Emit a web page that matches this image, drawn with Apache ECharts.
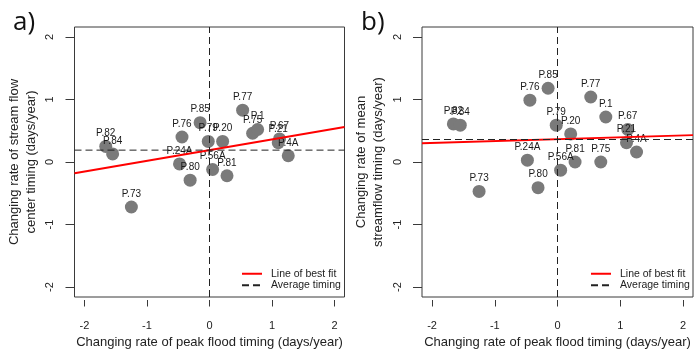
<!DOCTYPE html>
<html>
<head>
<meta charset="utf-8">
<script src="https://cdn.jsdelivr.net/npm/echarts@6/dist/echarts.min.js"></script>
<style>
html,body{margin:0;padding:0;background:#fff;}
#c{width:694px;height:352px;}
</style>
</head>
<body>
<div id="c"></div>
<script>
// ---- data ----
const stations = ['P.82','P.84','P.73','P.24A','P.80','P.76','P.85','P.79','P.56A','P.20','P.81','P.77','P.75','P.1','P.67','P.21','P.4A'];
const peakFloodRate = [-1.66,-1.55,-1.25,-0.48,-0.31,-0.44,-0.15,-0.02,0.05,0.21,0.28,0.53,0.69,0.77,1.12,1.10,1.26];
const centerTimingRate = [0.25,0.13,-0.72,-0.03,-0.29,0.40,0.63,0.33,-0.12,0.33,-0.22,0.83,0.46,0.52,0.37,0.31,0.10];
const meanTimingRate = [0.61,0.59,-0.47,0.03,-0.41,0.99,1.18,0.59,-0.13,0.45,0.00,1.04,0.00,0.72,0.52,0.31,0.16];
// best-fit line end points (x, y) read at the plot edges
const fitA = [[-2.16,-0.18],[2.16,0.56]];
const fitB = [[-2.16,0.30],[2.16,0.43]];
const avgA = [[-2.16,0.19],[2.16,0.19]];
const avgB = [[-2.16,0.36],[2.16,0.36]];
const zeroLine = [[0,-2.16],[0,2.16]];
const tickValues = [-2,-1,0,1,2];
const axisRange = [-2.16, 2.16];
const panelLabels = ['a)','b)'];
const xTitle = 'Changing rate of peak flood timing (days/year)';
const yTitles = ['Changing rate of stream flow\ncenter timing (days/year)', 'Changing rate of mean\nstreamflow timing (days/year)'];
const legendNames = ['Line of best fit','Average timing'];

const FONT = '"Liberation Sans", Arial, sans-serif';
const AX = '#3a3a3a';

function pts(ys){ return stations.map((s,i)=>({name:s, value:[peakFloodRate[i], ys[i]]})); }

function xAxis(gi){
  return {
    type:'value', gridIndex:gi, min:axisRange[0], max:axisRange[1], offset:3,
    axisLine:{show:false, onZero:false},
    axisTick:{show:true, length:6.5, customValues:tickValues, lineStyle:{color:AX}},
    axisLabel:{customValues:tickValues, margin:20, fontSize:11, fontFamily:FONT, color:'#222'},
    splitLine:{show:false},
    name:xTitle, nameLocation:'middle', nameGap:29,
    nameTextStyle:{fontSize:13, fontFamily:FONT, color:'#222'}
  };
}
function yAxis(gi){
  return {
    type:'value', gridIndex:gi, min:axisRange[0], max:axisRange[1],
    axisLine:{show:false, onZero:false},
    axisTick:{show:true, length:9, customValues:tickValues, lineStyle:{color:AX}},
    axisLabel:{customValues:tickValues, rotate:90, margin:19, fontSize:11, fontFamily:FONT, color:'#222'},
    splitLine:{show:false},
    name:yTitles[gi], nameLocation:'middle', nameGap:35,
    nameTextStyle:{fontSize:13, fontFamily:FONT, color:'#222', lineHeight:17}
  };
}
function scatter(gi, ys){
  return {
    type:'scatter', xAxisIndex:gi, yAxisIndex:gi, data:pts(ys),
    symbolSize:13, itemStyle:{color:'#7a7a7a', opacity:1},
    label:{show:true, position:'top', distance:1.5, formatter:'{b}', fontSize:10, fontFamily:FONT, color:'#1a1a1a'},
    emphasis:{disabled:true}, silent:true
  };
}
function line(gi, name, data, style){
  return {
    type:'line', name:name, xAxisIndex:gi, yAxisIndex:gi, data:data,
    symbol:'none', lineStyle:style, itemStyle:{color:style.color},
    silent:true, animation:false
  };
}
const redStyle = {color:'#ff0000', width:2, type:'solid'};
const dashStyle = {color:'#222', width:1, type:[7,4]};

function legend(left){
  return {
    data:legendNames, orient:'vertical', left:left, top:268, padding:0,
    itemWidth:20, itemHeight:10, itemGap:0, selectedMode:false,
    itemStyle:{color:'transparent', borderColor:'transparent', borderWidth:0},
    textStyle:{fontSize:10.5, fontFamily:FONT, color:'#222', lineHeight:11.5, padding:[0,0,0,4]}
  };
}

const option = {
  animation:false,
  backgroundColor:'#fff',
  title:[
    {text:panelLabels[0], left:13, top:10, padding:0, textStyle:{fontSize:26, fontWeight:'normal', fontFamily:'"Open Sans", sans-serif', color:'#111'}},
    {text:panelLabels[1], left:361, top:10, padding:0, textStyle:{fontSize:26, fontWeight:'normal', fontFamily:'"Open Sans", sans-serif', color:'#111'}}
  ],
  grid:[
    {left:74.5, top:27, width:270, height:270, show:true, borderColor:AX, borderWidth:1, backgroundColor:'transparent', containLabel:false, outerBoundsMode:'none'},
    {left:422, top:27, width:271, height:270, show:true, borderColor:AX, borderWidth:1, backgroundColor:'transparent', containLabel:false, outerBoundsMode:'none'}
  ],
  xAxis:[xAxis(0), xAxis(1)],
  yAxis:[yAxis(0), yAxis(1)],
  legend:[legend(241), legend(590)],
  series:[
    scatter(0, centerTimingRate),
    line(0, legendNames[0], fitA, redStyle),
    line(0, legendNames[1], avgA, dashStyle),
    line(0, 'zeroA', zeroLine, dashStyle),
    scatter(1, meanTimingRate),
    line(1, legendNames[0], fitB, redStyle),
    line(1, legendNames[1], avgB, dashStyle),
    line(1, 'zeroB', zeroLine, dashStyle)
  ]
};
const chart = echarts.init(document.getElementById('c'), null, {renderer:'canvas'});
chart.setOption(option);
</script>
</body>
</html>
